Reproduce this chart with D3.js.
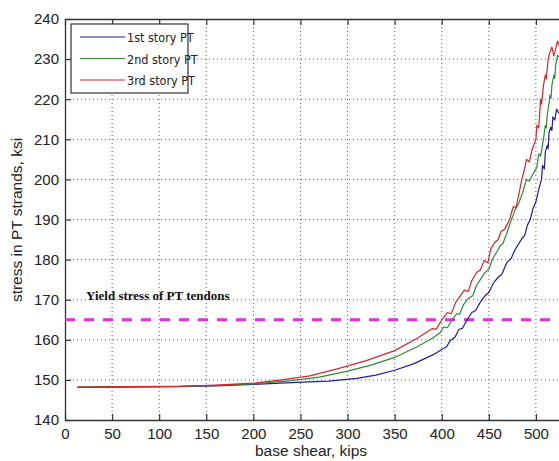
<!DOCTYPE html>
<html>
<head>
<meta charset="utf-8">
<script src="https://cdn.jsdelivr.net/npm/d3@7"></script>
<style>
  html, body { margin: 0; padding: 0; background: #ffffff; }
  svg { display: block; }
</style>
</head>
<body>
<div id="chart"></div>
<script>
// Base shear (kips) vs. stress in PT strands (ksi), one curve per story
const story1 = [
  [13,148.1],[60,148.2],[120,148.3],[160,148.5],[200,148.9],[240,149.3],[280,149.7],
  [310,150.4],[330,151.2],[350,152.4],[370,154.0],[391,156.3],[400,157.6],[405,158.2],
  [409,159.8],[414,160.6],[418,162.5],[422,162.9],[427,165.0],[432,166.8],[436,167.3],
  [441,169.4],[446,171.0],[450,171.8],[455,174.2],[460,175.6],[464,176.4],[469,179.2],
  [474,180.4],[477,182.1],[480,183.3],[485,185.2],[488,186.0],[491,188.6],[494,190.0],
  [497,192.8],[500,194.4],[503,197.5],[506,200.0],[507,203.5],[509,202.6],[510,206.8],
  [512,208.5],[513,207.6],[514,211.8],[516,213.0],[517,212.2],[518,215.6],[520,214.8],
  [522,217.5],[524,216.6],[526,217.0]
];
const story2 = [
  [13,148.2],[60,148.3],[120,148.4],[160,148.6],[200,149.0],[240,149.8],[270,150.7],
  [300,152.2],[325,153.7],[350,155.6],[375,158.4],[390,160.4],[398,161.7],[402,163.2],
  [406,163.0],[411,165.0],[416,166.5],[419,166.3],[423,168.7],[428,170.3],[433,171.0],
  [437,173.6],[441,175.0],[446,176.8],[450,177.6],[454,180.2],[458,181.7],[462,183.4],
  [465,184.0],[469,186.5],[474,190.0],[478,192.4],[482,194.2],[486,196.8],[490,200.0],
  [493,199.6],[497,201.4],[501,203.0],[503,206.4],[505,205.8],[508,210.0],[510,213.5],
  [511,212.8],[512,216.0],[514,219.0],[515,221.0],[516,220.2],[517,223.5],[519,226.0],
  [520,225.2],[521,228.5],[523,231.0],[525,230.4],[527,231.5]
];
const story3 = [
  [13,148.2],[60,148.3],[120,148.4],[160,148.7],[200,149.2],[230,150.0],[260,151.0],
  [290,152.8],[320,154.8],[350,157.3],[375,160.5],[390,162.8],[394,162.6],[401,165.3],
  [406,166.8],[410,166.5],[415,169.4],[419,170.7],[424,172.4],[428,172.0],[432,174.8],
  [437,176.8],[441,177.4],[445,179.8],[449,179.2],[452,182.6],[456,184.2],[460,185.0],
  [463,187.0],[467,187.6],[472,190.0],[476,193.2],[479,193.0],[482,196.4],[485,200.0],
  [488,202.6],[490,205.0],[493,204.4],[496,207.4],[500,210.0],[501,213.5],[503,212.8],
  [505,220.0],[506,218.8],[508,223.4],[510,226.0],[511,225.0],[513,230.0],[515,231.8],
  [517,233.0],[519,230.8],[520,231.6],[522,233.6],[523,234.5],[525,233.2],[527,234.2]
];
const seriesNames = ["1st story PT", "2nd story PT", "3rd story PT"];
const seriesColors = ["#1e1e9e", "#2f8a34", "#d0282c"];
const xTicks = [0, 50, 100, 150, 200, 250, 300, 350, 400, 450, 500, 550];
const xTickLabels = ["0", "50", "100", "150", "200", "250", "300", "350", "400", "450", "500", ""];
const yTicks = [140, 150, 160, 170, 180, 190, 200, 210, 220, 230, 240];
const yieldStress = 165;
const yieldLabel = "Yield stress of PT tendons";

const W = 559, H = 461;
const mLeft = 65, mRight = 583, mTop = 19, mBottom = 420;

const svg = d3.select("#chart").append("svg")
  .attr("width", W).attr("height", H)
  .style("font-family", "Arial, 'Liberation Sans', sans-serif");

svg.append("rect").attr("width", W).attr("height", H).attr("fill", "#ffffff");

const x = d3.scaleLinear().domain([0, 550]).range([mLeft, mRight]);
const y = d3.scaleLinear().domain([140, 240]).range([mBottom, mTop]);

svg.append("defs").append("clipPath").attr("id", "plotclip")
  .append("rect").attr("x", mLeft).attr("y", mTop)
  .attr("width", mRight - mLeft).attr("height", mBottom - mTop);

// dotted grid
const grid = svg.append("g").attr("stroke", "#444").attr("stroke-width", 1)
  .attr("stroke-dasharray", "1,3").attr("opacity", 0.85);
grid.selectAll("line.gx").data(xTicks.slice(1, -1)).join("line")
  .attr("x1", d => x(d)).attr("x2", d => x(d)).attr("y1", mTop).attr("y2", mBottom);
grid.selectAll("line.gy").data(yTicks.slice(1, -1)).join("line")
  .attr("x1", mLeft).attr("x2", mRight).attr("y1", d => y(d)).attr("y2", d => y(d));

// axes with inward ticks
const axisColor = "#333";
const xAxis = svg.append("g").attr("transform", `translate(0,${mBottom})`)
  .call(d3.axisBottom(x).tickValues(xTicks).tickSizeInner(-6).tickSizeOuter(0).tickPadding(8)
    .tickFormat((d, i) => xTickLabels[i]));
const xTop = svg.append("g").attr("transform", `translate(0,${mTop})`)
  .call(d3.axisTop(x).tickValues(xTicks).tickSizeInner(-6).tickSizeOuter(0).tickFormat(""));
const yAxis = svg.append("g").attr("transform", `translate(${mLeft},0)`)
  .call(d3.axisLeft(y).tickValues(yTicks).tickSizeInner(-6).tickSizeOuter(0).tickPadding(6));
[xAxis, xTop, yAxis].forEach(g => {
  g.select(".domain").attr("stroke", axisColor).attr("stroke-width", 1.3);
  g.selectAll(".tick line").attr("stroke", axisColor).attr("stroke-width", 1.2);
  g.selectAll(".tick text").attr("fill", "#222").style("font-size", "15px")
    .style("font-family", "Arial, 'Liberation Sans', sans-serif");
});

// axis titles
svg.append("text").attr("x", 311).attr("y", 456).attr("text-anchor", "middle")
  .attr("fill", "#222").style("font-size", "15.5px").text("base shear, kips");
svg.append("text").attr("transform", "translate(22,220) rotate(-90)")
  .attr("text-anchor", "middle").attr("fill", "#222").style("font-size", "15.5px")
  .text("stress in PT strands, ksi");

// yield stress reference line
const plot = svg.append("g").attr("clip-path", "url(#plotclip)");
plot.append("line")
  .attr("x1", x(0)).attr("x2", x(550)).attr("y1", y(yieldStress)).attr("y2", y(yieldStress))
  .attr("stroke", "#e22ee2").attr("stroke-width", 3).attr("stroke-dasharray", "10,9");
svg.append("text").attr("x", 86).attr("y", 300)
  .style("font-family", "'Liberation Serif', 'Times New Roman', serif")
  .style("font-weight", "bold").style("font-size", "13px").attr("fill", "#111")
  .text(yieldLabel);

// curves
const line = d3.line().x(d => x(d[0])).y(d => y(d[1]));
[story1, story2, story3].forEach((s, i) => {
  plot.append("path").datum(s).attr("d", line)
    .attr("fill", "none").attr("stroke", seriesColors[i]).attr("stroke-width", 1.2)
    .attr("stroke-linejoin", "round");
});

// legend
const lg = svg.append("g");
lg.append("rect").attr("x", 71).attr("y", 24).attr("width", 117).attr("height", 69)
  .attr("fill", "#fff").attr("stroke", axisColor).attr("stroke-width", 1.2);
seriesNames.forEach((n, i) => {
  const yy = 37 + i * 21.5;
  lg.append("line").attr("x1", 80).attr("x2", 125).attr("y1", yy).attr("y2", yy)
    .attr("stroke", seriesColors[i]).attr("stroke-width", 1.2);
  lg.append("text").attr("x", 127).attr("y", yy + 5)
    .style("font-family", "'Liberation Sans Narrow', 'Arial Narrow', 'DejaVu Sans Condensed', sans-serif")
    .style("font-size", "12.5px").attr("fill", "#222").text(n);
});
</script>
</body>
</html>
